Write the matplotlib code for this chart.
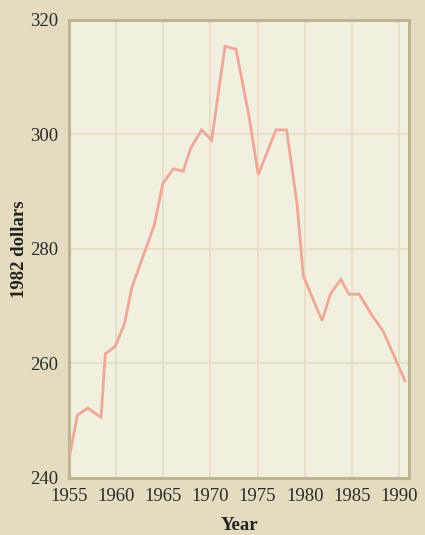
import matplotlib
matplotlib.use("Agg")
import matplotlib.pyplot as plt

# values (fractional years as plotted)
years = [1955.1, 1955.9, 1957.0, 1958.4, 1958.85, 1959.9, 1960.9, 1961.65,
         1964.05, 1964.94, 1966.06, 1967.12, 1967.9, 1969.07, 1970.13,
         1971.54, 1972.71, 1974.09, 1975.07, 1976.95, 1978.08, 1979.2,
         1979.85, 1981.83, 1982.75, 1983.84, 1984.69, 1985.78, 1987.1,
         1988.33, 1990.63]
dollars = [244.2, 251.0, 252.2, 250.6, 261.7, 263.0, 267.0, 273.2,
           284.2, 291.4, 294.0, 293.6, 297.6, 300.8, 299.0,
           315.4, 314.9, 303.2, 293.0, 300.8, 300.8, 287.7,
           275.3, 267.5, 272.2, 274.7, 272.1, 272.1, 268.5,
           265.6, 257.0]

xticks = [1955, 1960, 1965, 1970, 1975, 1980, 1985, 1990]
yticks = [240, 260, 280, 300, 320]

outer_bg = "#e4dcc0"
panel_bg = "#f1efdf"
grid_col = "#e6dfc5"
spine_col = "#bdb493"
line_col = "#f0a896"

plt.rcParams['font.family'] = ['Liberation Serif', 'DejaVu Serif']

fig = plt.figure(figsize=(4.25, 5.35), dpi=100, facecolor=outer_bg)
ax = fig.add_axes([69/425, 1-478/535, 340/425, 458/535])
ax.set_facecolor(panel_bg)

ax.plot(years, dollars, color=line_col, lw=2.0, solid_joinstyle='miter', zorder=3)

ax.set_xlim(1955, 1991.06)
ax.set_ylim(240, 320)
ax.set_xticks(xticks)
ax.set_yticks(yticks)
ax.grid(True, color=grid_col, lw=1.3)
ax.set_axisbelow(True)
ax.tick_params(length=0, labelsize=13.5, colors="#2a2a2a")
ax.tick_params(axis='x', pad=7)
ax.tick_params(axis='y', pad=8)

for s in ax.spines.values():
    s.set_color(spine_col)
    s.set_linewidth(2.2)

ax.set_xlabel("Year", fontsize=13.5, fontweight='bold', color="#222222", labelpad=9)
ax.set_ylabel("1982 dollars", fontsize=13.5, fontweight='bold', color="#222222", labelpad=1)

fig.savefig("out.png", dpi=100, facecolor=outer_bg)
